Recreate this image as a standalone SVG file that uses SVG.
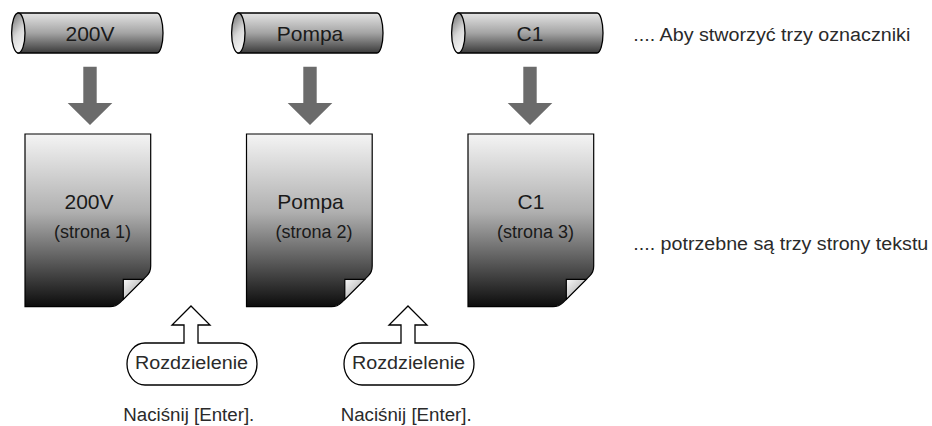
<svg xmlns="http://www.w3.org/2000/svg" width="932" height="426" viewBox="0 0 932 426">
<style>
.t{font-family:"Liberation Sans",Arial,sans-serif;fill:#1a1a1a}
.lbl{font-family:"Liberation Sans",Arial,sans-serif;fill:#2a2a2a;font-size:18px}
.cyl{fill:url(#gCyl);stroke:#000;stroke-width:1.3}
.cend{fill:url(#gEnd);stroke:#000;stroke-width:1.3}
.page{fill:url(#gPage);stroke:#000;stroke-width:1.2}
.fold{fill:url(#gFold);stroke:#000;stroke-width:1.2}
.arr{fill:#6b6b6b}
.call{fill:#fff;stroke:#000;stroke-width:1.3}
</style>
<defs>
<linearGradient id="gCyl" x1="0" y1="0" x2="0" y2="1">
<stop offset="0" stop-color="#e4e4e4"/>
<stop offset="0.5" stop-color="#a4a4a4"/>
<stop offset="1" stop-color="#3a3a3a"/>
</linearGradient>
<linearGradient id="gEnd" x1="0" y1="0" x2="0.4" y2="1">
<stop offset="0" stop-color="#6a6a6a"/>
<stop offset="0.6" stop-color="#d8d8d8"/>
<stop offset="1" stop-color="#f2f2f2"/>
</linearGradient>
<linearGradient id="gPage" x1="0" y1="0" x2="0" y2="1">
<stop offset="0" stop-color="#f4f4f4"/>
<stop offset="0.45" stop-color="#b0b0b0"/>
<stop offset="1" stop-color="#0c0c0c"/>
</linearGradient>
<linearGradient id="gFold" x1="0" y1="0" x2="1" y2="1">
<stop offset="0" stop-color="#fafafa"/>
<stop offset="1" stop-color="#9a9a9a"/>
</linearGradient>
<g id="cylShape">
<path class="cyl" d="M18,13 H157 A6,20 0 0 1 157,53 H18 Z"/>
<ellipse class="cend" cx="18.3" cy="33" rx="6.7" ry="20"/>
</g>
<g id="pageShape">
<path class="page" d="M25,134 H150.7 V266 Q150.7,272 147,275.6 L120,302.6 Q116,306.7 110,306.7 H25 Z"/>
<path class="fold" d="M123.3,279.3 H143.3 L123.3,299.3 Z"/>
</g>
<path id="callShape" class="call" d="M191,306 L210,325 H198 V343 H239 A18,21 0 0 1 239,385 H145 A18,21 0 0 1 145,343 H184 V325 H172 Z"/>
</defs>

<g id="connectors">
<path class="arr" d="M83.3,66.7 H96.7 V103 H112.3 L90,125 L67.7,103 H83.3 Z"/>
<path class="arr" d="M83.3,66.7 H96.7 V103 H112.3 L90,125 L67.7,103 H83.3 Z" transform="translate(220,0)"/>
<path class="arr" d="M83.3,66.7 H96.7 V103 H112.3 L90,125 L67.7,103 H83.3 Z" transform="translate(440,0)"/>
</g>

<g id="cyl1">
<use href="#cylShape"/>
<text class="t" x="90" y="40.5" font-size="21" text-anchor="middle">200V</text>
</g>
<g id="cyl2">
<use href="#cylShape" transform="translate(220,0)"/>
<text class="t" x="310" y="40.5" font-size="21" text-anchor="middle">Pompa</text>
</g>
<g id="cyl3">
<use href="#cylShape" transform="translate(440,0)"/>
<text class="t" x="530" y="40.5" font-size="21" text-anchor="middle">C1</text>
</g>

<g id="page1">
<use href="#pageShape"/>
<text class="t" x="89" y="209" font-size="21" text-anchor="middle">200V</text>
<text class="t" x="92.5" y="237.5" font-size="18" text-anchor="middle">(strona 1)</text>
</g>
<g id="page2">
<use href="#pageShape" transform="translate(221.5,0)"/>
<text class="t" x="310.5" y="209" font-size="21" text-anchor="middle">Pompa</text>
<text class="t" x="314" y="237.5" font-size="18" text-anchor="middle">(strona 2)</text>
</g>
<g id="page3">
<use href="#pageShape" transform="translate(443,0)"/>
<text class="t" x="531" y="209" font-size="21" text-anchor="middle">C1</text>
<text class="t" x="535.5" y="237.5" font-size="18" text-anchor="middle">(strona 3)</text>
</g>

<g id="split1">
<use href="#callShape"/>
<text class="lbl" x="191.5" y="368.5" font-size="19" text-anchor="middle" textLength="113" lengthAdjust="spacingAndGlyphs">Rozdzielenie</text>
</g>
<g id="split2">
<use href="#callShape" transform="translate(217,0)"/>
<text class="lbl" x="408.5" y="368.5" font-size="19" text-anchor="middle" textLength="113" lengthAdjust="spacingAndGlyphs">Rozdzielenie</text>
</g>

<g id="notes">
<text class="lbl" x="123.3" y="421" textLength="131" lengthAdjust="spacingAndGlyphs">Naciśnij [Enter].</text>
<text class="lbl" x="340.7" y="421" textLength="131" lengthAdjust="spacingAndGlyphs">Naciśnij [Enter].</text>
<text class="lbl" x="633.3" y="40.5" textLength="277" lengthAdjust="spacingAndGlyphs">.... Aby stworzyć trzy oznaczniki</text>
<text class="lbl" x="633.3" y="250" textLength="295" lengthAdjust="spacingAndGlyphs">.... potrzebne są trzy strony tekstu</text>
</g>
</svg>
